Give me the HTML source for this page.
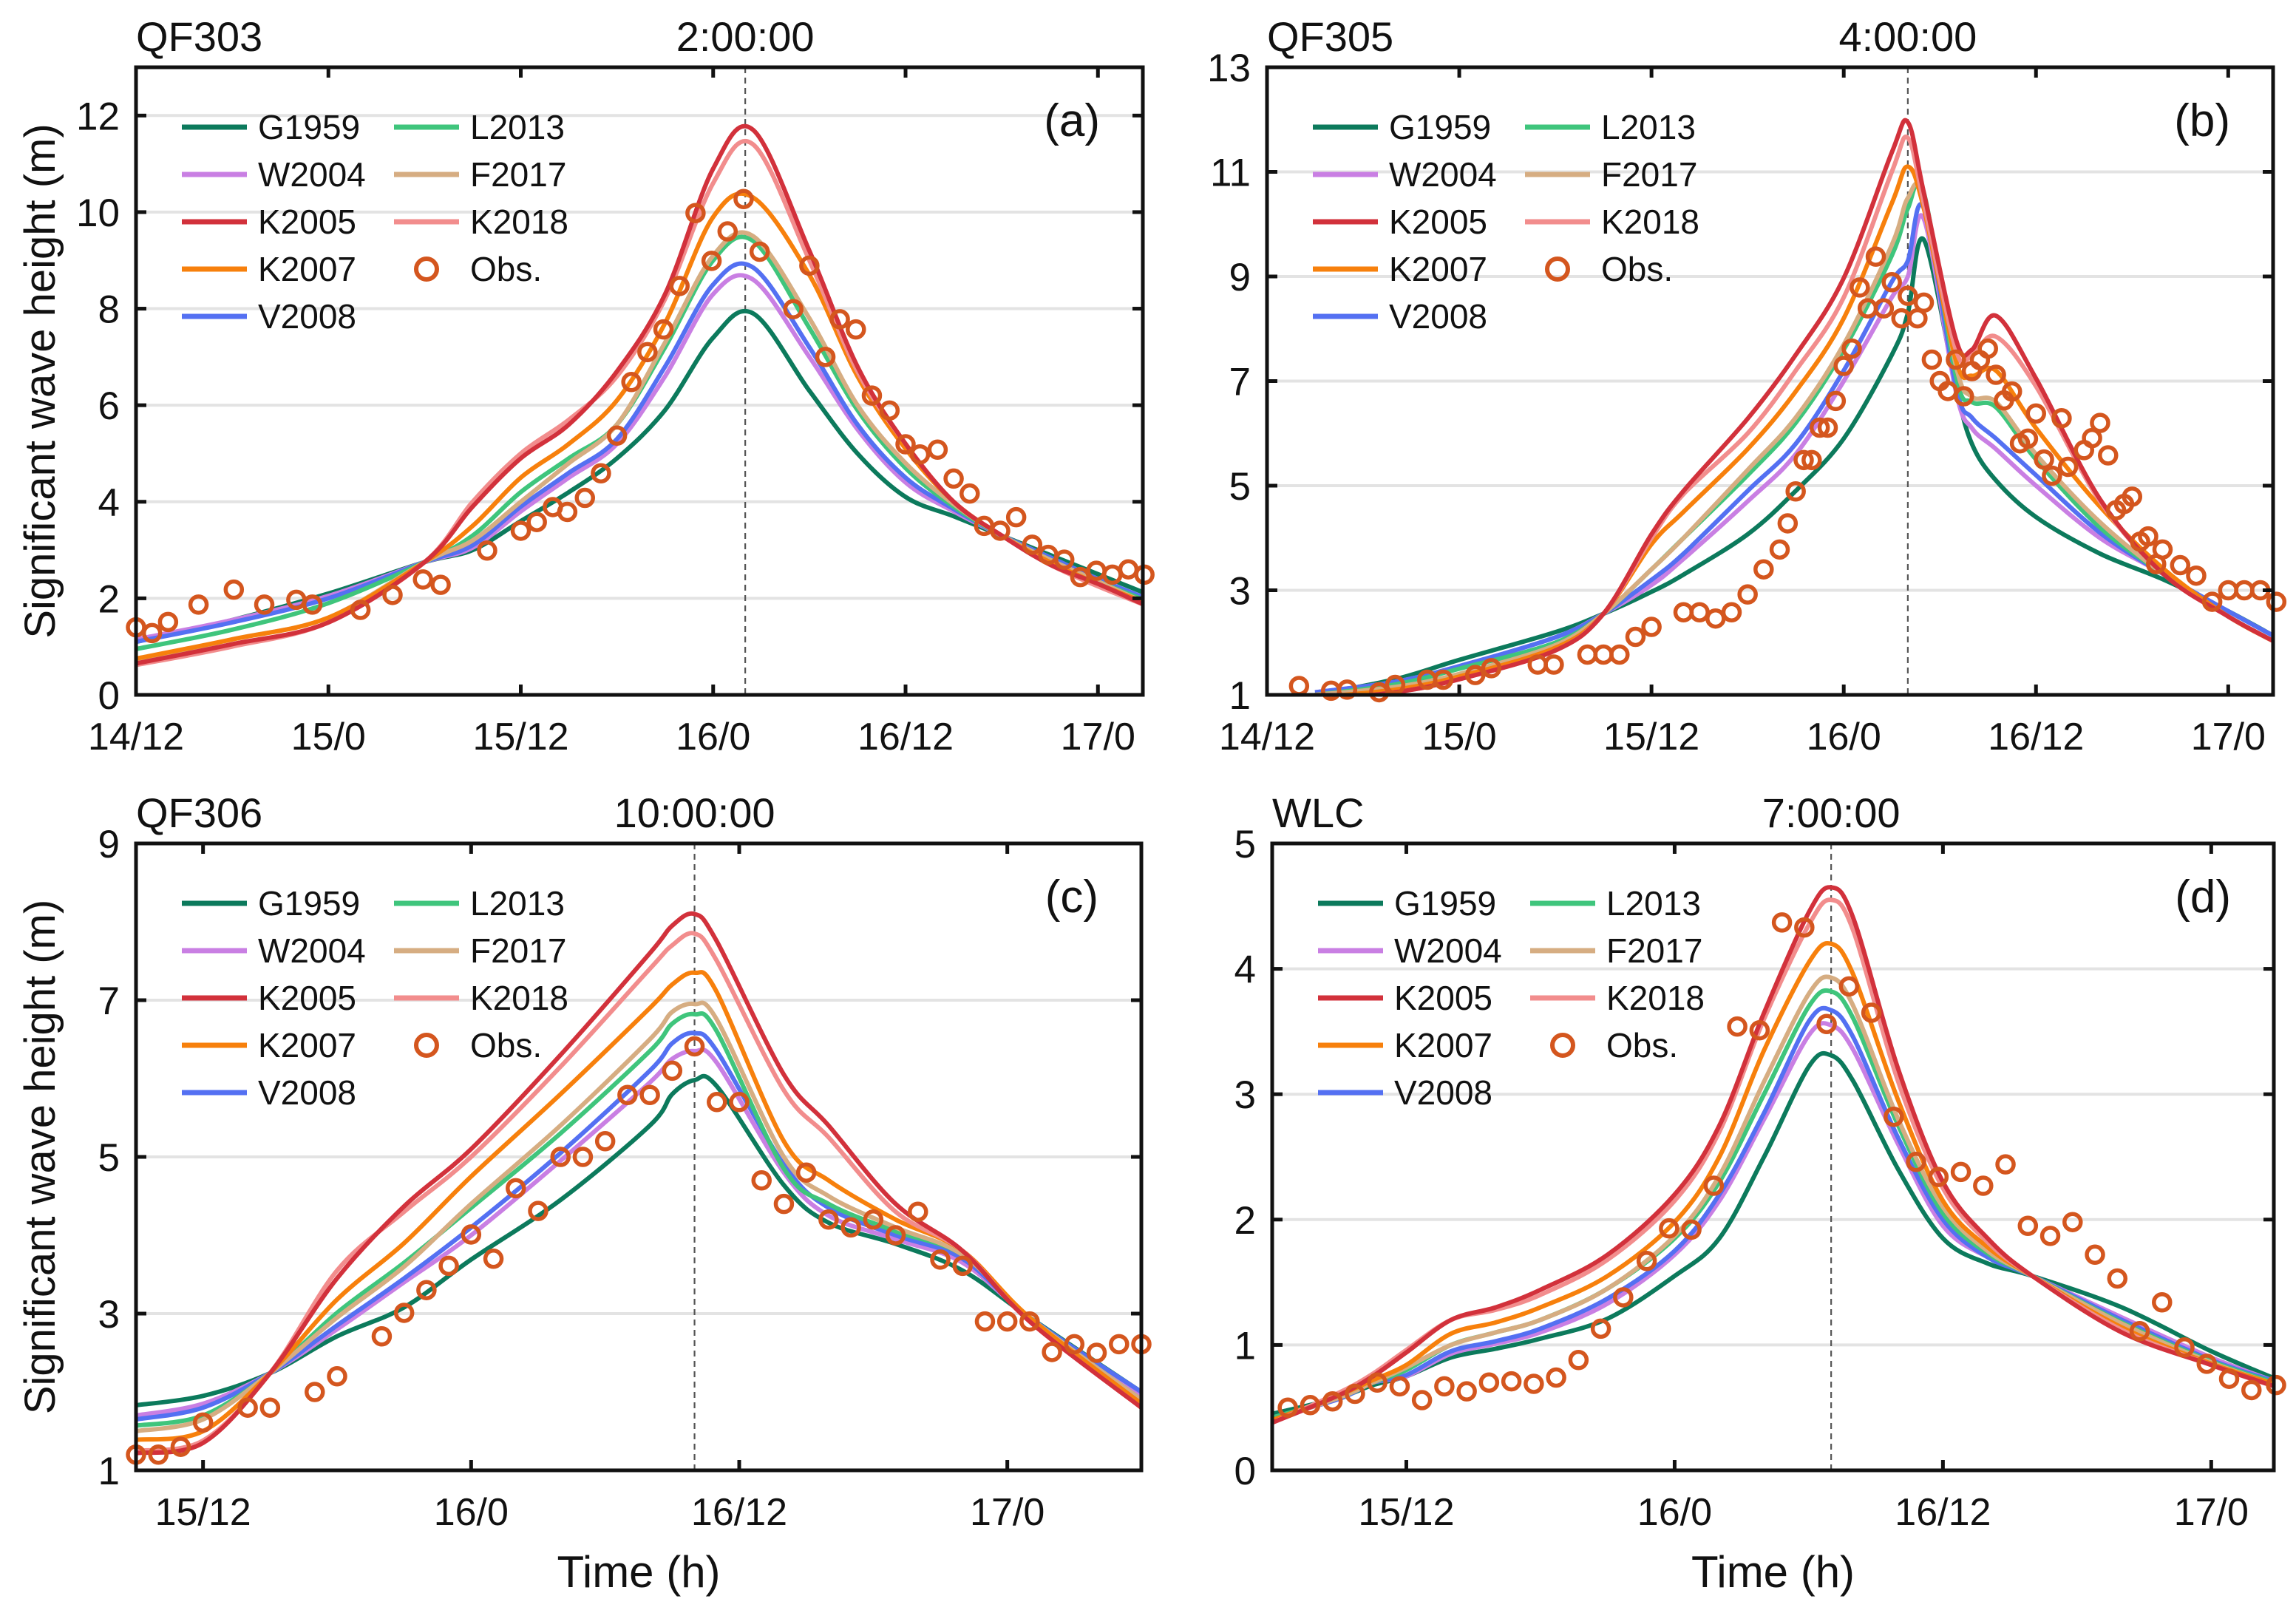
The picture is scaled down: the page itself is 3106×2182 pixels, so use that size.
<!DOCTYPE html>
<html><head><meta charset="utf-8">
<style>
html,body{margin:0;padding:0;background:#fff;}
svg{display:block;font-family:"Liberation Sans",Arial,sans-serif;}
</style></head>
<body>
<svg id="fig" width="3106" height="2182" viewBox="0 0 3106 2182" xmlns="http://www.w3.org/2000/svg"></svg>
<script>
// ---------- DATA ----------
const seriesNames = ["G1959","W2004","K2005","K2007","V2008","L2013","F2017","K2018"];
const seriesColors = {G1959:"#0c7a5c",W2004:"#c97fe3",K2005:"#d2313b",K2007:"#f7800c",V2008:"#5470f2",L2013:"#3fc57c",F2017:"#d6ad82",K2018:"#f28d8d"};

// Panel (a) QF303
const timeA = [0,6,12,18,21,24,27,30,33,36,38.5,42,45,48,51,54,57,60,63];
const a_G1959 = [1.1,1.55,2.1,2.75,3.0,3.6,4.2,4.9,5.9,7.4,7.9,6.3,5.0,4.1,3.7,3.3,2.9,2.5,2.1];
const a_W2004 = [1.15,1.55,2.05,2.75,3.05,3.8,4.5,5.2,6.6,8.3,8.6,7.0,5.5,4.4,3.8,3.3,2.85,2.4,2.0];
const a_V2008 = [1.1,1.5,2.0,2.75,3.1,3.9,4.6,5.3,6.8,8.5,8.85,7.2,5.6,4.5,3.85,3.3,2.85,2.4,2.0];
const a_L2013 = [0.95,1.35,1.9,2.75,3.3,4.2,4.9,5.6,7.2,9.0,9.4,7.6,5.9,4.7,3.9,3.3,2.8,2.35,1.95];
const a_F2017 = [0.7,1.15,1.6,2.75,3.2,4.0,4.8,5.6,7.3,9.1,9.5,7.8,6.0,4.8,3.95,3.3,2.8,2.35,1.9];
const a_K2007 = [0.75,1.15,1.6,2.75,3.5,4.5,5.2,6.1,7.7,9.9,10.3,8.7,6.6,5.1,4.0,3.3,2.75,2.3,1.9];
const a_K2005 = [0.65,1.05,1.5,2.75,3.9,4.9,5.6,6.7,8.3,10.9,11.7,9.2,6.8,5.2,4.0,3.3,2.7,2.3,1.85];
const a_K2018 = [0.62,1.0,1.5,2.75,4.0,5.0,5.7,6.6,8.2,10.6,11.4,9.0,6.7,5.2,4.0,3.3,2.7,2.25,1.85];
const obsTimeA = [0,1,2,3.9,6.1,8,10,11,14,16,17.9,19,21.9,24,25,26,26.9,28,29,30,30.9,31.9,32.9,33.9,34.9,35.9,36.9,37.9,38.9,41,42,43,43.9,44.9,45.9,47,48,48.9,50,51,52,52.9,53.9,54.9,55.9,56.9,57.9,58.9,59.9,60.9,61.9,62.9];
const obsValA = [1.4,1.28,1.51,1.87,2.18,1.87,1.97,1.87,1.76,2.07,2.39,2.28,2.99,3.4,3.58,3.89,3.79,4.08,4.59,5.37,6.48,7.1,7.57,8.47,9.98,8.99,9.6,10.27,9.18,7.99,8.89,7.0,7.78,7.57,6.2,5.89,5.19,4.98,5.08,4.48,4.17,3.5,3.4,3.68,3.11,2.9,2.8,2.44,2.57,2.49,2.6,2.49];

// Panel (b) QF305
const timeB = [3,8,12,18,21,24,26,30,33,36,39,40,41,43,44,45.5,48,52,56,60,63];
const b_G1959 = [1.0,1.3,1.67,2.2,2.55,2.97,3.3,4.07,4.9,5.9,7.5,8.3,9.7,6.9,5.8,5.1,4.4,3.7,3.2,2.6,2.1];
const b_W2004 = [1.05,1.25,1.55,2.1,2.55,3.1,3.6,4.7,5.6,7.0,8.6,9.0,10.1,6.8,6.1,5.7,5.0,4.0,3.3,2.5,2.0];
const b_V2008 = [1.05,1.25,1.55,2.1,2.55,3.2,3.7,4.9,5.8,7.2,8.9,9.3,10.3,6.9,6.3,5.9,5.2,4.1,3.3,2.6,2.1];
const b_L2013 = [1.0,1.2,1.5,2.0,2.55,3.4,4.0,5.2,6.2,7.6,9.4,10.3,10.6,7.1,6.6,6.5,5.5,4.2,3.3,2.5,2.0];
const b_F2017 = [1.0,1.15,1.4,1.95,2.55,3.4,4.0,5.3,6.3,7.7,9.6,10.5,10.5,7.3,6.7,6.6,5.6,4.3,3.3,2.5,2.0];
const b_K2007 = [0.95,1.1,1.35,1.9,2.55,3.88,4.5,5.7,6.8,8.2,10.4,11.1,10.3,7.4,7.1,7.2,6.1,4.6,3.4,2.5,2.0];
const b_K2005 = [0.9,1.05,1.3,1.85,2.55,4.07,4.9,6.28,7.5,8.97,11.37,11.95,10.6,7.8,7.6,8.25,7.05,4.74,3.3,2.5,2.0];
const b_K2018 = [0.9,1.05,1.3,1.85,2.55,4.0,4.84,6.0,7.2,8.6,11.0,11.65,10.4,7.6,7.5,7.85,6.9,4.7,3.3,2.5,2.0];
const obsTimeB = [2,4,5,7,8,10,11,13,14,16.9,17.9,20,21,22,23,24,26,27,28,29,30,31,32,32.5,33,33.5,34,34.5,35,35.5,36,36.5,37,37.5,38,38.5,39,39.6,40,40.6,41,41.5,42,42.5,43,43.5,44,44.5,45,45.5,46,46.5,47,47.5,48,48.5,49,49.6,50,51,51.5,52,52.5,53,53.5,54,54.5,55,55.5,55.9,57,58,59,60,61,62,63];
const obsValB = [1.17,1.08,1.1,1.05,1.19,1.29,1.29,1.38,1.51,1.58,1.58,1.77,1.77,1.77,2.11,2.3,2.58,2.58,2.46,2.58,2.92,3.4,3.78,4.28,4.89,5.49,5.49,6.11,6.11,6.62,7.29,7.62,8.79,8.39,9.38,8.39,8.89,8.2,8.63,8.2,8.5,7.41,7.0,6.81,7.41,6.71,7.19,7.4,7.62,7.12,6.63,6.8,5.81,5.9,6.38,5.5,5.19,6.29,5.36,5.68,5.91,6.2,5.58,4.53,4.65,4.79,3.93,4.03,3.5,3.78,3.48,3.28,2.78,3.0,3.0,3.0,2.78];

// Panel (c) QF306
const timeC = [21,24,27,30,33,36,40,44,45,46,47,50,52,55,58,61,66];
const c_G1959 = [1.83,1.95,2.24,2.71,3.08,3.69,4.45,5.4,5.8,5.98,5.9,4.64,4.16,3.89,3.55,2.95,2.0];
const c_W2004 = [1.7,1.85,2.24,2.8,3.4,4.0,4.95,5.95,6.25,6.35,6.2,4.8,4.25,3.95,3.65,2.95,1.95];
const c_V2008 = [1.65,1.8,2.24,2.85,3.45,4.1,5.05,6.1,6.45,6.58,6.35,4.9,4.35,4.0,3.7,2.95,2.0];
const c_L2013 = [1.57,1.7,2.24,3.01,3.65,4.35,5.3,6.35,6.7,6.82,6.6,4.85,4.4,4.05,3.75,2.95,1.9];
const c_F2017 = [1.5,1.65,2.24,2.95,3.6,4.4,5.4,6.5,6.85,6.95,6.75,5.0,4.5,4.1,3.75,2.95,1.9];
const c_K2007 = [1.39,1.5,2.24,3.18,3.9,4.75,5.8,6.9,7.2,7.35,7.1,5.2,4.7,4.2,3.8,2.95,1.85];
const c_K2005 = [1.22,1.35,2.24,3.45,4.37,5.1,6.3,7.6,7.95,8.1,7.75,6.05,5.4,4.4,3.8,2.9,1.8];
const c_K2018 = [1.25,1.38,2.24,3.55,4.3,5.0,6.15,7.4,7.7,7.85,7.5,5.85,5.25,4.3,3.8,2.9,1.8];
const obsTimeC = [21,22,23,24,26,27,29,30,32,33,34,35,36,37,38,39,40,41,42,43,44,45,46,47,48,49,50,51,52,53,54,55,56,57,58,59,60,61,62,63,64,65,66];
const obsValC = [1.2,1.2,1.3,1.61,1.8,1.8,2.0,2.2,2.71,3.01,3.3,3.61,4.01,3.7,4.6,4.31,5.0,5.0,5.2,5.79,5.79,6.1,6.41,5.7,5.7,4.7,4.4,4.8,4.2,4.1,4.2,4.0,4.3,3.69,3.61,2.9,2.9,2.9,2.51,2.61,2.5,2.61,2.61];

// Panel (d) WLC
const timeD = [18,21,22.5,24,26,28,30,33,36,38,40,42,43,44,46,48,50,52,56,60,63];
const d_G1959 = [0.45,0.58,0.68,0.75,0.9,0.97,1.05,1.21,1.55,1.85,2.5,3.22,3.31,3.1,2.4,1.85,1.65,1.55,1.3,0.95,0.72];
const d_W2004 = [0.42,0.57,0.7,0.75,0.93,1.01,1.1,1.33,1.72,2.15,2.8,3.47,3.55,3.35,2.6,1.95,1.7,1.55,1.22,0.9,0.7];
const d_V2008 = [0.42,0.57,0.7,0.76,0.95,1.03,1.13,1.37,1.75,2.2,2.85,3.58,3.67,3.45,2.65,2.0,1.7,1.55,1.2,0.88,0.7];
const d_L2013 = [0.42,0.58,0.7,0.8,1.0,1.1,1.2,1.45,1.85,2.3,3.0,3.7,3.82,3.6,2.75,2.05,1.73,1.55,1.18,0.87,0.69];
const d_F2017 = [0.4,0.58,0.7,0.82,1.0,1.1,1.2,1.45,1.87,2.35,3.1,3.8,3.93,3.7,2.8,2.1,1.75,1.55,1.17,0.86,0.68];
const d_K2007 = [0.4,0.6,0.72,0.84,1.09,1.18,1.3,1.55,1.98,2.5,3.35,4.05,4.2,3.95,2.95,2.15,1.78,1.55,1.14,0.85,0.68];
const d_K2005 = [0.38,0.6,0.75,0.94,1.2,1.3,1.44,1.72,2.2,2.75,3.65,4.45,4.65,4.4,3.2,2.3,1.85,1.55,1.1,0.84,0.66];
const d_K2018 = [0.38,0.62,0.77,0.96,1.2,1.28,1.4,1.68,2.15,2.7,3.6,4.35,4.55,4.3,3.1,2.25,1.82,1.55,1.12,0.84,0.66];
const obsTimeD = [18.7,19.7,20.7,21.7,22.7,23.7,24.7,25.7,26.7,27.7,28.7,29.7,30.7,31.7,32.7,33.7,34.75,35.75,36.75,37.75,38.8,39.8,40.8,41.8,42.8,43.8,44.8,45.8,46.8,47.8,48.8,49.8,50.8,51.8,52.8,53.8,54.8,55.8,56.8,57.8,58.8,59.8,60.8,61.8,62.9];
const obsValD = [0.5,0.52,0.55,0.61,0.7,0.67,0.56,0.67,0.63,0.7,0.71,0.69,0.74,0.88,1.13,1.38,1.67,1.93,1.92,2.27,3.54,3.51,4.37,4.33,3.56,3.86,3.65,2.82,2.46,2.34,2.38,2.27,2.44,1.95,1.87,1.98,1.72,1.53,1.11,1.34,0.98,0.85,0.73,0.64,0.68];

// Axis ticks
const yTicksA = [0,2,4,6,8,10,12];
const yTicksB = [1,3,5,7,9,11,13];
const yTicksC = [1,3,5,7,9];
const yTicksD = [0,1,2,3,4,5];
const xTicksTop = [0,12,24,36,48,60];
const xLabelsTop = ["14/12","15/0","15/12","16/0","16/12","17/0"];
const xTicksBottom = [24,36,48,60];
const xLabelsBottom = ["15/12","16/0","16/12","17/0"];

// ---------- DRAWING ----------
const NS = "http://www.w3.org/2000/svg";
const svg = document.getElementById("fig");
function mk(tag, attrs, parent){
  const e = document.createElementNS(NS, tag);
  for (const k in attrs) e.setAttribute(k, attrs[k]);
  (parent||svg).appendChild(e);
  return e;
}
function smoothPath(pts){
  let d = "M" + pts[0][0].toFixed(1) + "," + pts[0][1].toFixed(1);
  for (let i=0;i<pts.length-1;i++){
    const p0 = pts[Math.max(0,i-1)], p1 = pts[i], p2 = pts[i+1], p3 = pts[Math.min(pts.length-1,i+2)];
    const c1x = p1[0] + (p2[0]-p0[0])/6, c1y = p1[1] + (p2[1]-p0[1])/6;
    const c2x = p2[0] - (p3[0]-p1[0])/6, c2y = p2[1] - (p3[1]-p1[1])/6;
    d += " C" + c1x.toFixed(1)+","+c1y.toFixed(1)+" "+c2x.toFixed(1)+","+c2y.toFixed(1)+" "+p2[0].toFixed(1)+","+p2[1].toFixed(1);
  }
  return d;
}

const panels = [
  {id:"a", x0:184, x1:1546, y0:91, y1:940, tmin:0, tmax:62.8, vmin:0, vmax:13, yt:yTicksA, xt:xTicksTop, xl:xLabelsTop,
   title:"QF303", tl:"2:00:00", vt:38, times:timeA,
   series:{G1959:a_G1959,W2004:a_W2004,K2005:a_K2005,K2007:a_K2007,V2008:a_V2008,L2013:a_L2013,F2017:a_F2017,K2018:a_K2018},
   ot:obsTimeA, ov:obsValA, ylab:true, xlab:false},
  {id:"b", x0:1714, x1:3075, y0:91, y1:940, tmin:0, tmax:62.8, vmin:1, vmax:13, yt:yTicksB, xt:xTicksTop, xl:xLabelsTop,
   title:"QF305", tl:"4:00:00", vt:40, times:timeB,
   series:{G1959:b_G1959,W2004:b_W2004,K2005:b_K2005,K2007:b_K2007,V2008:b_V2008,L2013:b_L2013,F2017:b_F2017,K2018:b_K2018},
   ot:obsTimeB, ov:obsValB, ylab:false, xlab:false},
  {id:"c", x0:184, x1:1544, y0:1141, y1:1989, tmin:21, tmax:66, vmin:1, vmax:9, yt:yTicksC, xt:xTicksBottom, xl:xLabelsBottom,
   title:"QF306", tl:"10:00:00", vt:46, times:timeC,
   series:{G1959:c_G1959,W2004:c_W2004,K2005:c_K2005,K2007:c_K2007,V2008:c_V2008,L2013:c_L2013,F2017:c_F2017,K2018:c_K2018},
   ot:obsTimeC, ov:obsValC, ylab:true, xlab:true},
  {id:"d", x0:1721, x1:3076, y0:1141, y1:1989, tmin:18, tmax:62.8, vmin:0, vmax:5, yt:yTicksD, xt:xTicksBottom, xl:xLabelsBottom,
   title:"WLC", tl:"7:00:00", vt:43, times:timeD,
   series:{G1959:d_G1959,W2004:d_W2004,K2005:d_K2005,K2007:d_K2007,V2008:d_V2008,L2013:d_L2013,F2017:d_F2017,K2018:d_K2018},
   ot:obsTimeD, ov:obsValD, ylab:false, xlab:true}
];
const drawOrder = ["G1959","W2004","V2008","L2013","F2017","K2007","K2018","K2005"];
const OBS = "#d4561e";

panels.forEach(P=>{
  const g = mk("g", {});
  
  
  const X = t => P.x0 + (t-P.tmin)/(P.tmax-P.tmin)*(P.x1-P.x0);
  const Y = v => P.y1 - (v-P.vmin)/(P.vmax-P.vmin)*(P.y1-P.y0);

  const defs = mk("defs", {}, g);
  const cp = mk("clipPath", {id:"clip-"+P.id}, defs);
  mk("rect", {x:P.x0, y:P.y0, width:P.x1-P.x0, height:P.y1-P.y0}, cp);

  P.yt.forEach(v=>{
    if (v===P.vmin || v===P.vmax) return;
    const l = mk("line", {x1:P.x0, x2:P.x1, y1:Y(v), y2:Y(v), stroke:"#e3e3e3", "stroke-width":4}, g);
    
    
  });
  const vl = mk("line", {x1:X(P.vt), x2:X(P.vt), y1:P.y0, y2:P.y1, stroke:"#555", "stroke-width":2.2, "stroke-dasharray":"8,6"}, g);
  
  

  const sg = mk("g", {"clip-path":"url(#clip-"+P.id+")"}, g);
  drawOrder.forEach(name=>{
    const vals = P.series[name];
    const pts = P.times.map((t,i)=>[X(t), Y(vals[i])]);
    const path = mk("path", {d:smoothPath(pts), fill:"none", stroke:seriesColors[name], "stroke-width":6, "stroke-linejoin":"round"}, sg);
    
    
  });
  P.ot.forEach((t,i)=>{
    const c = mk("circle", {cx:X(t), cy:Y(P.ov[i]), r:11, fill:"none", stroke:OBS, "stroke-width":5.5}, g);
    
    
  });

  const fr = mk("rect", {x:P.x0, y:P.y0, width:P.x1-P.x0, height:P.y1-P.y0, fill:"none", stroke:"#111", "stroke-width":5}, g);
  
  

  P.yt.forEach(v=>{
    mk("line", {x1:P.x0, x2:P.x0+14, y1:Y(v), y2:Y(v), stroke:"#111", "stroke-width":5}, g);
    mk("line", {x1:P.x1-14, x2:P.x1, y1:Y(v), y2:Y(v), stroke:"#111", "stroke-width":5}, g);
    const tx = mk("text", {x:P.x0-22, y:Y(v)+19, "text-anchor":"end", "font-size":53, fill:"#111"}, g);
    tx.textContent = v;
    
    
  });
  P.xt.forEach((t,i)=>{
    mk("line", {x1:X(t), x2:X(t), y1:P.y1, y2:P.y1-14, stroke:"#111", "stroke-width":5}, g);
    mk("line", {x1:X(t), x2:X(t), y1:P.y0, y2:P.y0+14, stroke:"#111", "stroke-width":5}, g);
    const tx = mk("text", {x:X(t), y:P.y1+74, "text-anchor":"middle", "font-size":52, fill:"#111"}, g);
    tx.textContent = P.xl[i];
    
    
  });

  const tt = mk("text", {x:P.x0, y:P.y0-22, "font-size":56, fill:"#111"}, g);
  tt.textContent = P.title;
  
  
  const tl = mk("text", {x:X(P.vt), y:P.y0-22, "text-anchor":"middle", "font-size":56, fill:"#111"}, g);
  tl.textContent = P.tl;
  
  
  const pl = mk("text", {x:P.x1-58, y:P.y0+93, "text-anchor":"end", "font-size":62, fill:"#111"}, g);
  pl.textContent = "(" + P.id + ")";
  
  

  if (P.ylab){
    const cy = (P.y0+P.y1)/2;
    const yl = mk("text", {x:0, y:0, transform:"translate(74,"+cy+") rotate(-90)", "text-anchor":"middle", "font-size":58, fill:"#111"}, g);
    yl.textContent = "Significant wave height (m)";
    
    
  }
  if (P.xlab){
    const xl = mk("text", {x:(P.x0+P.x1)/2, y:P.y1+158, "text-anchor":"middle", "font-size":60, fill:"#111"}, g);
    xl.textContent = "Time (h)";
    
    
  }

  const lg = mk("g", {}, g);
  
  
  const entries = [["G1959",0,0],["W2004",0,1],["K2005",0,2],["K2007",0,3],["V2008",0,4],["L2013",1,0],["F2017",1,1],["K2018",1,2],["Obs.",1,3]];
  entries.forEach(([name,col,row])=>{
    const lx = P.x0 + 62 + col*287;
    const ly = P.y0 + 81 + row*64;
    const eg = mk("g", {}, lg);
    
    
    if (name === "Obs."){
      mk("circle", {cx:lx+44, cy:ly, r:14, fill:"none", stroke:OBS, "stroke-width":6}, eg);
    } else {
      mk("line", {x1:lx, x2:lx+88, y1:ly, y2:ly, stroke:seriesColors[name], "stroke-width":7}, eg);
    }
    const t = mk("text", {x:lx+103, y:ly+16, "font-size":46, fill:"#111"}, eg);
    t.textContent = name;
  });
});
</script>
</body></html>
